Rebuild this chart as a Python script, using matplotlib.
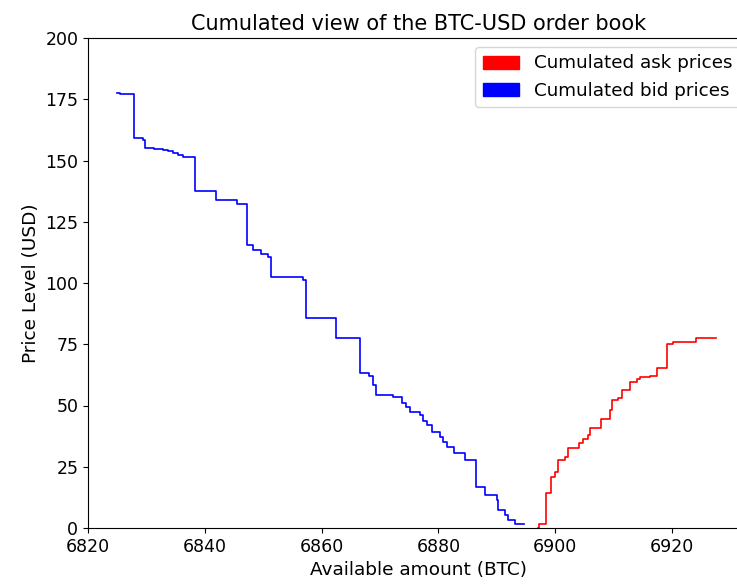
import numpy as np
import matplotlib
matplotlib.use("Agg")
from matplotlib import pyplot as plt
import matplotlib.patches as mpatches

# bid side: price levels and cumulated amount (ascending price)
bid_price = [6824.97, 6825.5, 6827.8, 6829.5, 6829.8, 6831.3, 6832.8, 6833.7, 6834.6,
             6835.4, 6836.3, 6838.3, 6842.0, 6845.5, 6847.2, 6848.3, 6849.7, 6850.8,
             6851.3, 6856.8, 6857.4, 6862.4, 6866.6, 6868.2, 6868.8, 6869.4, 6872.3,
             6873.7, 6874.5, 6875.1, 6876.8, 6877.3, 6878.0, 6878.9, 6880.3, 6880.8,
             6881.5, 6882.6, 6884.6, 6886.4, 6888.0, 6890.0, 6890.2, 6891.4, 6891.9,
             6893.1, 6894.7]
bid_cum = [177.7, 177.3, 159.0, 158.2, 155.2, 154.6, 154.4, 153.7, 153.0,
           152.4, 151.6, 137.7, 133.9, 132.3, 115.5, 113.5, 111.8, 110.7,
           102.3, 101.2, 85.6, 77.4, 63.1, 62.0, 58.4, 54.3, 53.4,
           50.9, 49.5, 47.5, 46.1, 43.5, 42.0, 39.3, 37.3, 35.0,
           33.2, 30.7, 27.8, 16.9, 13.5, 11.4, 7.3, 5.3, 3.3,
           1.5, 1.5]

# ask side
ask_price = [6897.1, 6897.3, 6898.4, 6899.3, 6900.0, 6900.5, 6901.7, 6902.2, 6904.1,
             6904.8, 6905.7, 6906.0, 6907.8, 6909.4, 6909.8, 6910.8, 6911.4, 6912.8,
             6914.0, 6914.5, 6916.2, 6917.5, 6919.2, 6920.2, 6924.2, 6927.6]
ask_cum = [0.0, 1.6, 14.1, 20.9, 23.0, 27.8, 28.8, 32.5, 34.8,
           36.2, 38.0, 40.7, 44.4, 48.2, 52.2, 52.9, 56.3, 59.7,
           60.7, 61.5, 62.0, 65.2, 75.1, 76.0, 77.4, 77.4]

fig = plt.figure(figsize=(7.37, 5.87), dpi=100)
# axes run slightly past the right edge of the canvas
ax = fig.add_axes([88 / 737, 59 / 587, 661 / 737, 490 / 587])

ax.step(bid_price, bid_cum, where='post', color='blue', linewidth=1.2)
ax.step(ask_price, ask_cum, where='post', color='red', linewidth=1.2)

ax.set_xlim(6820, 6933.2)
ax.set_ylim(0, 200)
ax.set_xticks(np.arange(6820, 6921, 20))
ax.tick_params(labelsize=12.5)

ax.set_title('Cumulated view of the BTC-USD order book', fontsize=15)
ax.set_xlabel('Available amount (BTC)', fontsize=13.3)
ax.set_ylabel('Price Level (USD)', fontsize=13.3)

red_patch = mpatches.Patch(color='red', label='Cumulated ask prices')
blue_patch = mpatches.Patch(color='blue', label='Cumulated bid prices')
ax.legend(handles=[red_patch, blue_patch], loc='upper right', fontsize=13.2)

fig.savefig('out.png', dpi=100)
